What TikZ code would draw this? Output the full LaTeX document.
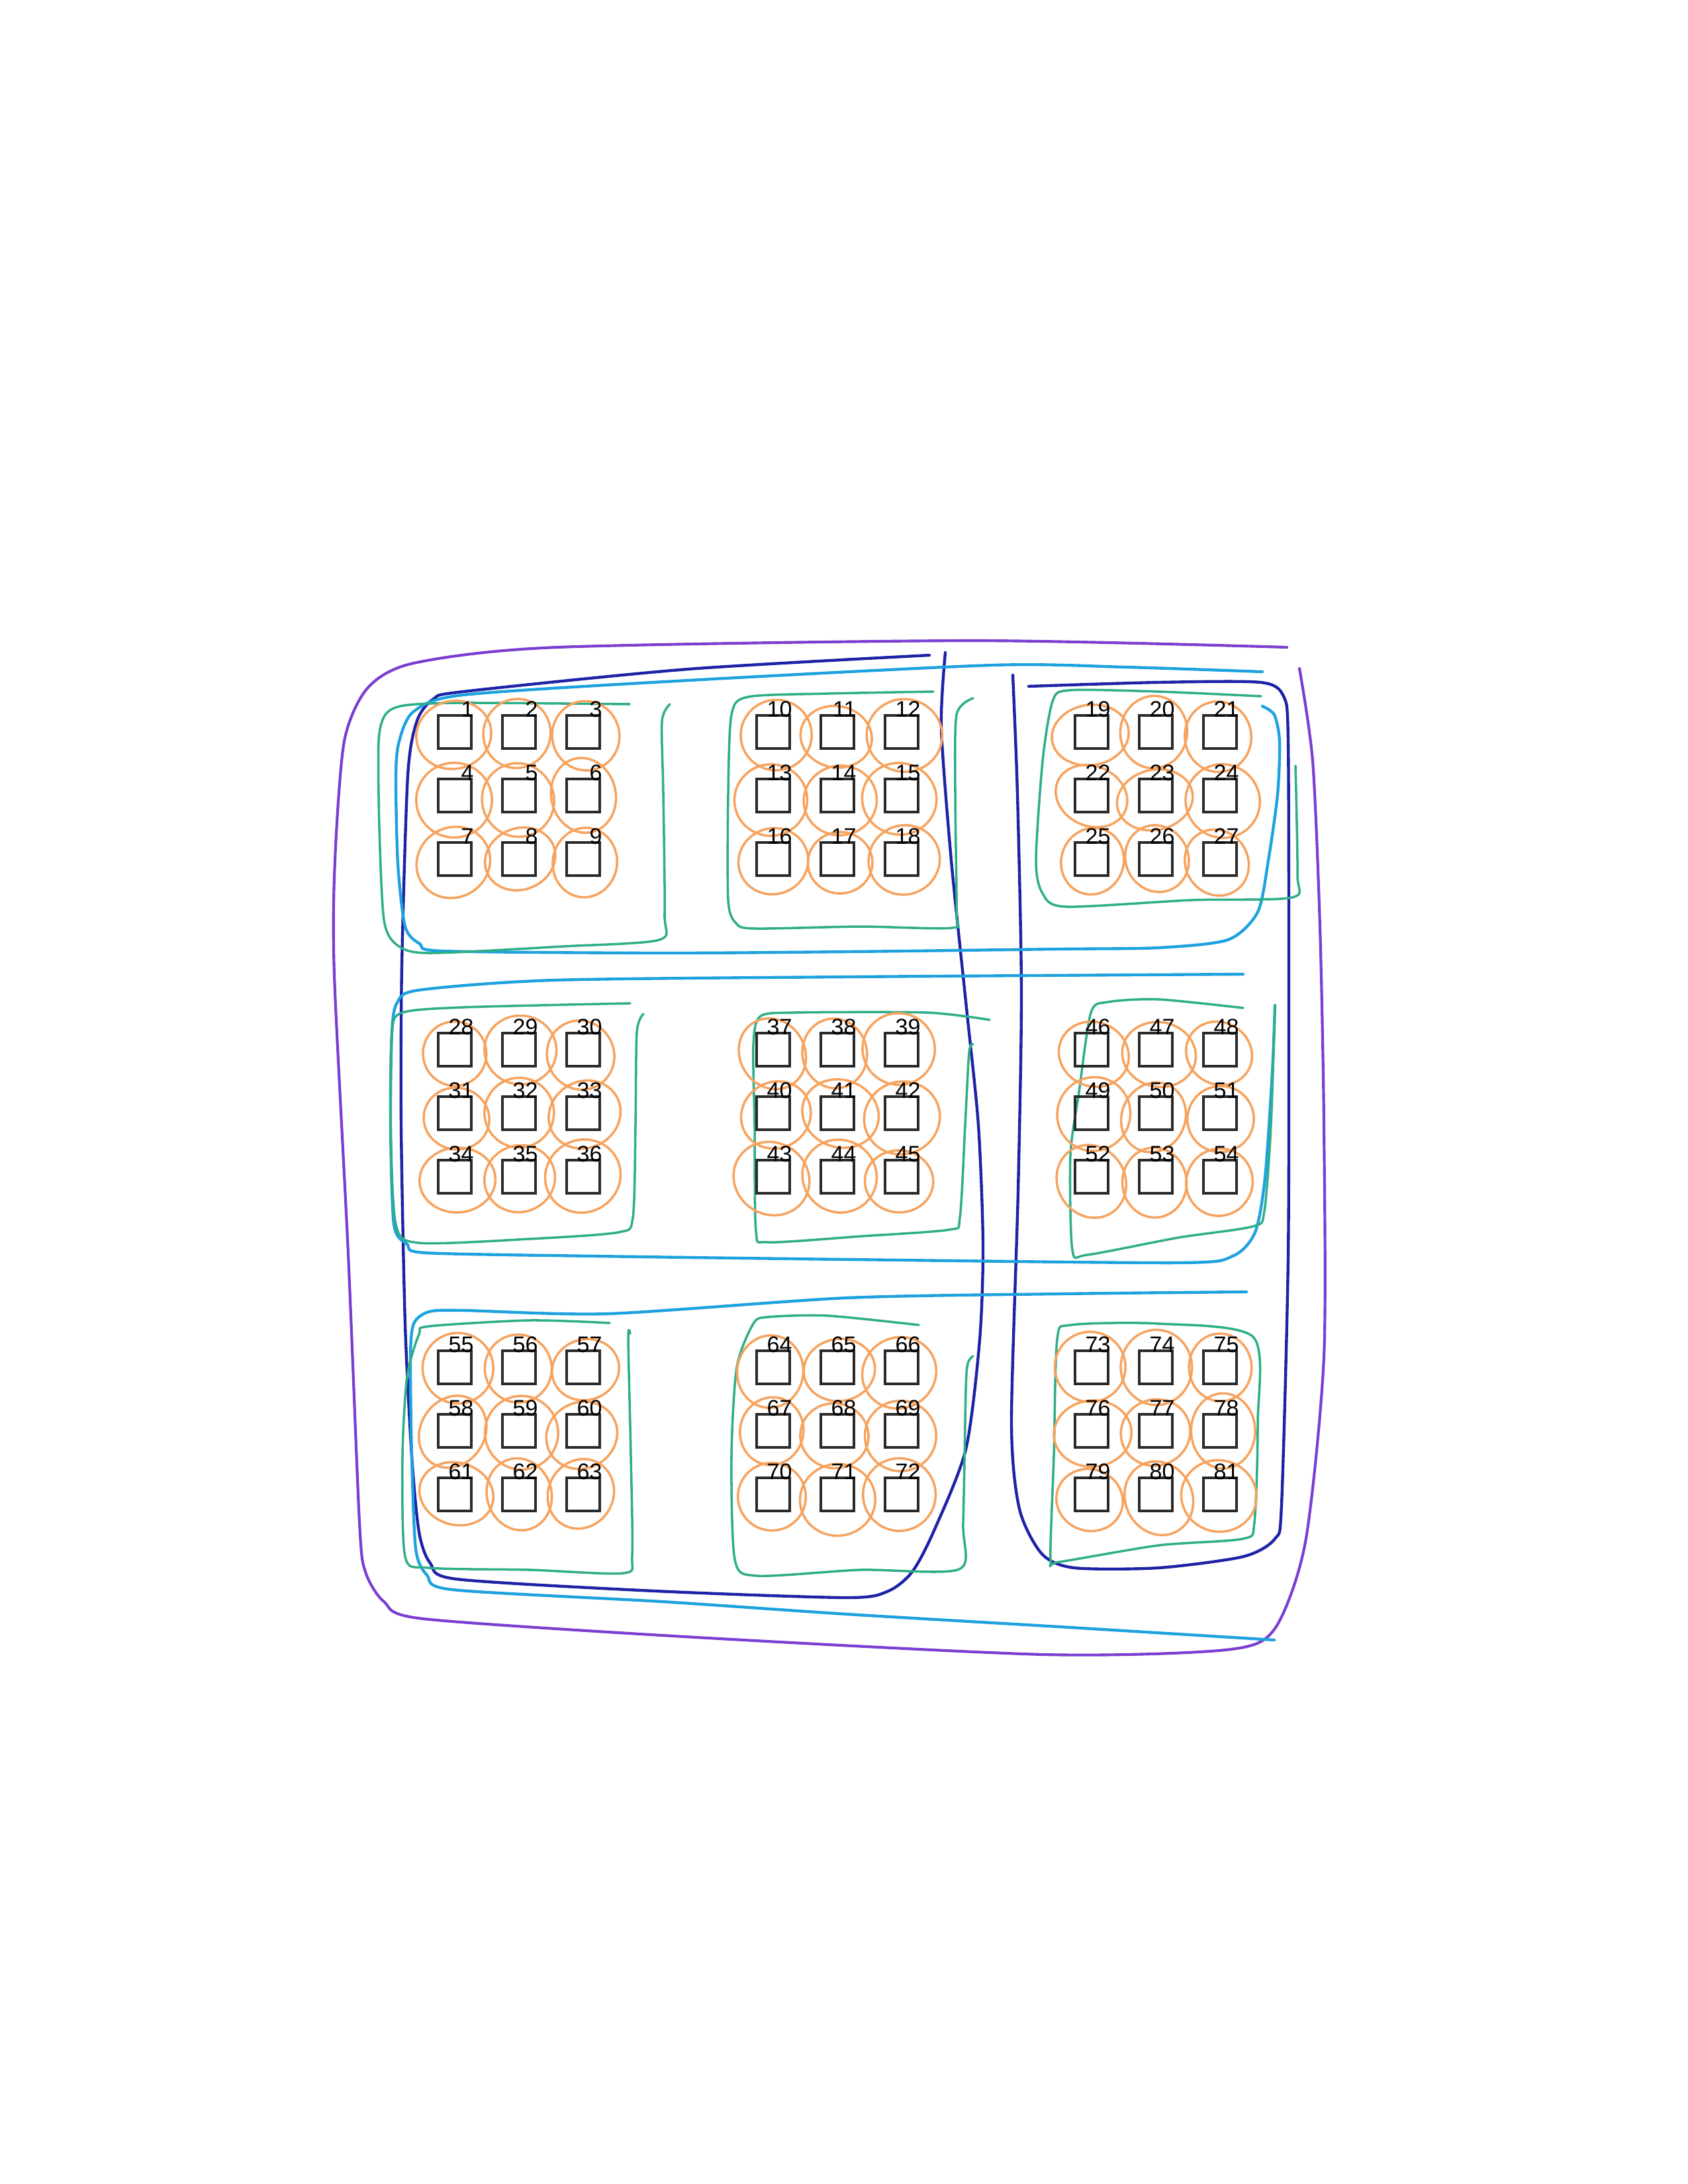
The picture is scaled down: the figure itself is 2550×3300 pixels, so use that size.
\documentclass[tikz,border=0pt]{standalone}
\usepackage{fontspec}
\setmainfont{Liberation Sans}
\usepackage{tikz}
\usetikzlibrary{backgrounds}
\definecolor{allc}{HTML}{7A3ED2}
\definecolor{colc}{HTML}{1D22A6}
\definecolor{rowc}{HTML}{1EA2DE}
\definecolor{boxc}{HTML}{2FAE88}
\definecolor{ringc}{HTML}{F6A35F}
\definecolor{cellink}{HTML}{2A2A2A}
\tikzset{
  cell/.style={rectangle,draw=cellink,line width=0.95pt,minimum size=12pt,inner sep=0pt},
  num/.style={font=\fontsize{8.2}{9}\selectfont,inner sep=0pt,anchor=base east},
  ring/.style={draw=ringc,line width=0.85pt},
  boxgrp/.style={draw=boxc,line width=0.85pt,line cap=round,line join=round},
  rowgrp/.style={draw=rowc,line width=1.05pt,line cap=round,line join=round},
  colgrp/.style={draw=colc,line width=1.05pt,line cap=round,line join=round},
  allgrp/.style={draw=allc,line width=1pt,line cap=round,line join=round},
}

\begin{document}
\begin{tikzpicture}[x=0.084667mm,y=-0.084667mm]
  \useasboundingbox (0,0) rectangle (2550,3300);
  % cells 1..81
  \foreach \br in {0,1,2} \foreach \bc in {0,1,2} \foreach \i in {0,1,2} \foreach \j in {0,1,2} {
    \pgfmathtruncatemacro{\n}{27*\br+9*\bc+3*\i+\j+1}
    \pgfmathsetmacro{\cx}{687+481*\bc+97*\j}
    \pgfmathsetmacro{\cy}{1106+480*\br+96*\i}
    \node[cell] (s\n) at (\cx,\cy) {};
    \node[num] (l\n) at ([xshift=0.6pt,yshift=-1pt]s\n.north east) {\n};
  }
  \begin{scope}[on background layer]
  % whole grid
  \draw[allgrp] plot[smooth,tension=0.45] coordinates {(1944,978) (1473,968) (842,978)
    (625,1002) (555,1040) (520,1120) (506,1300) (505,1473) (526,1894) (543,2300)
    (552,2375) (580,2420) (640,2446) (1052,2474) (1578,2500) (1851,2493)
    (1925,2462) (1972,2330) (2000,2050) (2000,1700) (1994,1400) (1983,1150)
    (1963,1010)};
  % column groups
  \draw[colgrp] plot[smooth,tension=0.45] coordinates {(1404,990) (1040,1011) (700,1045)
    (655,1056) (630,1089) (616,1172) (607,1460) (606,1700) (612,2000) (622,2200)
    (633,2315) (650,2362) (690,2386) (990,2404) (1280,2414) (1342,2404) (1378,2375)
    (1410,2315) (1459,2190) (1480,2024) (1485,1880) (1478,1700) (1460,1523)
    (1437,1300) (1422,1100) (1428,986)};
  \draw[colgrp] plot[smooth,tension=0.45] coordinates {(1554,1037) (1750,1031) (1904,1031)
    (1939,1052) (1946,1120) (1947,1500) (1946,1900) (1936,2273) (1926,2325)
    (1878,2352) (1750,2369) (1623,2369) (1574,2348) (1540,2280) (1528,2150)
    (1538,1800) (1543,1500) (1537,1200) (1530,1020)};
  % row groups
  \draw[rowgrp] plot[smooth,tension=0.45] coordinates {(1907,1015) (1700,1008) (1500,1005)
    (1040,1028) (700,1050) (625,1075) (603,1120) (598,1172) (601,1305) (612,1400)
    (634,1426) (670,1437) (1000,1440) (1280,1438) (1600,1434) (1750,1432)
    (1855,1420) (1900,1378) (1916,1300) (1930,1200) (1933,1120) (1925,1080)
    (1907,1067)};
  \draw[rowgrp] plot[smooth,tension=0.45] coordinates {(1878,1472) (1280,1476) (837,1481)
    (633,1496) (600,1515) (592,1560) (590,1700) (595,1850) (615,1880) (643,1893)
    (900,1898) (1280,1903) (1780,1908) (1862,1898) (1896,1862) (1911,1780)
    (1922,1620) (1926,1519)};
  \draw[rowgrp] plot[smooth,tension=0.45] coordinates {(1883,1952) (1600,1955) (1280,1961)
    (919,1985) (700,1980) (648,1982) (625,2000) (620,2050) (622,2200) (628,2340)
    (645,2380) (684,2402) (1000,2420) (1280,2439) (1600,2458) (1925,2478)};
  % block outlines
  \draw[boxgrp] plot[smooth,tension=0.45] coordinates {(951,1064) (700,1062) (610,1066)
    (582,1080) (572,1120) (573,1250) (580,1390) (600,1428) (648,1440) (850,1430)
    (996,1420) (1004,1380) (1002,1200) (1000,1090) (1012,1064)};
  \draw[boxgrp] plot[smooth,tension=0.45] coordinates {(1410,1045) (1250,1048) (1130,1053)
    (1105,1080) (1100,1200) (1100,1360) (1112,1395) (1140,1403) (1300,1400)
    (1438,1402) (1445,1380) (1443,1200) (1445,1080) (1470,1055)};
  \draw[boxgrp] plot[smooth,tension=0.45] coordinates {(1905,1052) (1750,1045) (1615,1043)
    (1590,1060) (1575,1150) (1565,1300) (1575,1350) (1610,1370) (1800,1360)
    (1952,1356) (1960,1320) (1957,1157)};
  \draw[boxgrp] plot[smooth,tension=0.45] coordinates {(952,1516) (700,1522) (608,1530)
    (592,1560) (590,1700) (598,1850) (633,1878) (800,1872) (934,1862) (956,1840)
    (960,1700) (962,1560) (972,1532)};
  \draw[boxgrp] plot[smooth,tension=0.45] coordinates {(1495,1541) (1400,1530) (1200,1530)
    (1148,1536) (1138,1580) (1140,1700) (1142,1860) (1160,1877) (1300,1868)
    (1434,1858) (1450,1840) (1458,1700) (1464,1590) (1470,1578)};
  \draw[boxgrp] plot[smooth,tension=0.45] coordinates {(1878,1523) (1750,1510) (1674,1514)
    (1648,1530) (1630,1650) (1617,1746) (1620,1889) (1643,1896) (1780,1870)
    (1893,1853) (1910,1830) (1920,1700) (1926,1519)};
  \draw[boxgrp] plot[smooth,tension=0.45] coordinates {(921,1999) (800,1995) (648,2004)
    (633,2016) (615,2080) (608,2200) (612,2352) (648,2369) (800,2372) (942,2377)
    (955,2350) (953,2200) (949,2022) (952,2015)};
  \draw[boxgrp] plot[smooth,tension=0.45] coordinates {(1388,2002) (1250,1988) (1160,1990)
    (1138,2000) (1113,2066) (1105,2200) (1110,2356) (1143,2381) (1300,2372)
    (1449,2371) (1455,2300) (1459,2100) (1462,2060) (1470,2049)};
  \draw[boxgrp] plot[smooth cycle,tension=0.45] coordinates {(1750,2000) (1618,2002)
    (1597,2024) (1592,2200) (1587,2356) (1600,2360) (1750,2335) (1878,2325)
    (1895,2300) (1900,2150) (1893,2020)};
  % rings round the cells
  \pgfmathsetseed{11}
  \foreach \n in {1,...,81} {
    \pgfmathsetmacro{\rx}{53+6*rand}
    \pgfmathsetmacro{\ry}{51+6*rand}
    \pgfmathsetmacro{\ang}{35*rand}
    \pgfmathsetmacro{\dx}{5*rand}
    \pgfmathsetmacro{\dy}{4+5*rand}
    \draw[ring] ([shift={(\dx,\dy)}]s\n.center) ellipse [x radius=\rx,y radius=\ry,rotate=\ang];
  }
  \end{scope}
\end{tikzpicture}
\end{document}
